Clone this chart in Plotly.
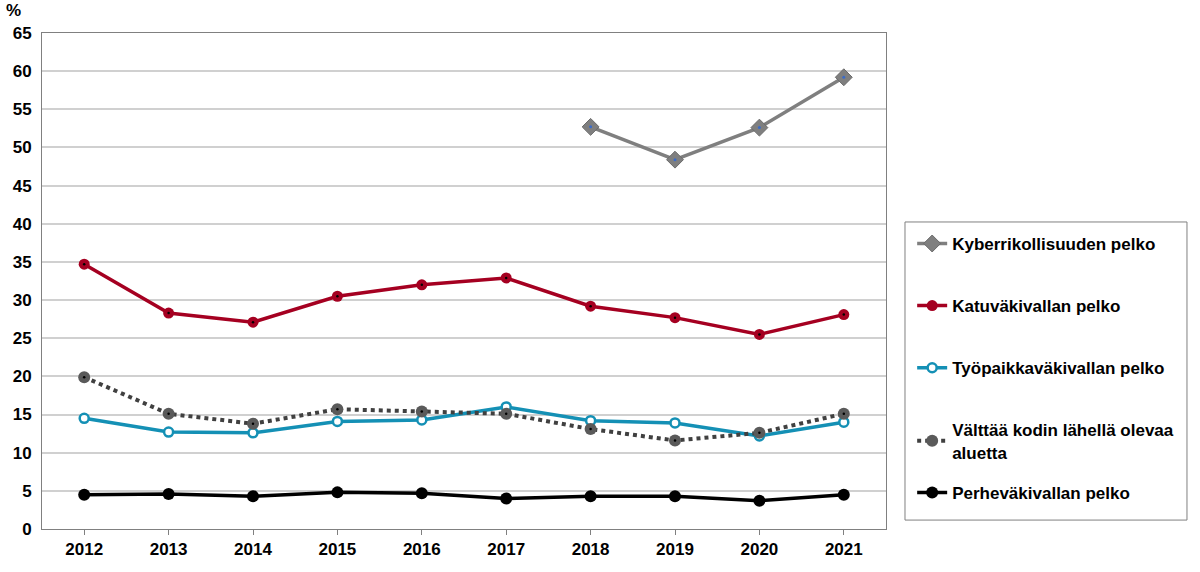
import plotly.graph_objects as go

years = ['2012', '2013', '2014', '2015', '2016', '2017', '2018', '2019', '2020', '2021']

kyber = [None, None, None, None, None, None, 52.7, 48.4, 52.6, 59.2]
katu = [34.7, 28.3, 27.1, 30.5, 32.0, 32.9, 29.2, 27.7, 25.5, 28.1]
tyopaikka = [14.5, 12.7, 12.6, 14.1, 14.3, 16.0, 14.2, 13.9, 12.2, 14.0]
valttaa = [19.9, 15.1, 13.8, 15.7, 15.4, 15.1, 13.1, 11.6, 12.6, 15.1]
perhe = [4.5, 4.6, 4.3, 4.8, 4.7, 4.0, 4.3, 4.3, 3.7, 4.5]

y_ticks = list(range(0, 70, 5))

font_family = 'Arial, Liberation Sans, sans-serif'

fig = go.Figure()

# main series
fig.add_trace(go.Scatter(x=years, y=kyber, name='Kyberrikollisuuden pelko', legendgroup='a',
                         mode='lines+markers', line=dict(color='#7f7f7f', width=3.5),
                         marker=dict(symbol='diamond', size=13, color='#7f7f7f',
                                     line=dict(color='#6a6a6a', width=1))))
fig.add_trace(go.Scatter(x=years, y=katu, name='Katuväkivallan pelko', legendgroup='b',
                         mode='lines+markers', line=dict(color='#a50021', width=3.5),
                         marker=dict(symbol='circle', size=11, color='#a50021')))
fig.add_trace(go.Scatter(x=years, y=tyopaikka, name='Työpaikkaväkivallan pelko', legendgroup='c',
                         mode='lines+markers', line=dict(color='#1490b5', width=3.5),
                         marker=dict(symbol='circle', size=9, color='white',
                                     line=dict(color='#1490b5', width=2.5))))
fig.add_trace(go.Scatter(x=years, y=valttaa, name='Välttää kodin lähellä olevaa<br>aluetta', legendgroup='d',
                         mode='lines+markers', line=dict(color='#404040', width=4, dash='dot'),
                         marker=dict(symbol='circle', size=12, color='#5a5a5a')))
fig.add_trace(go.Scatter(x=years, y=perhe, name='Perheväkivallan pelko', legend='legend2',
                         mode='lines+markers', line=dict(color='black', width=3.5),
                         marker=dict(symbol='circle', size=12, color='black')))

# small centre dots inside the markers
fig.add_trace(go.Scatter(x=years, y=kyber, mode='markers', showlegend=False, hoverinfo='skip',
                         marker=dict(size=3, color='#3a6bc8')))
fig.add_trace(go.Scatter(x=years, y=katu, mode='markers', showlegend=False, hoverinfo='skip',
                         marker=dict(size=2.5, color='black')))
fig.add_trace(go.Scatter(x=years, y=valttaa, mode='markers', showlegend=False, hoverinfo='skip',
                         marker=dict(size=2.5, color='black')))

legend_font = dict(family=font_family, size=17, color='black', weight='bold')

fig.update_layout(
    width=1200, height=572,
    margin=dict(l=42, r=314, t=33, b=43, autoexpand=False),
    plot_bgcolor='white', paper_bgcolor='white',
    font=dict(family=font_family, size=17, color='black'),
    legend=dict(x=1.031, y=0.611, xanchor='left', yanchor='top', bgcolor='rgba(0,0,0,0)',
                font=legend_font, tracegroupgap=37, itemwidth=30),
    legend2=dict(x=1.031, y=0.0726, xanchor='left', yanchor='middle', bgcolor='rgba(0,0,0,0)',
                 font=legend_font, itemwidth=30),
    xaxis=dict(type='category', showgrid=False, showline=True, linecolor='#808080', linewidth=1,
               mirror=True, ticks='outside', ticklen=5, tickcolor='#808080',
               tickfont=dict(size=17, weight='bold'), range=[-0.5, 9.5]),
    yaxis=dict(range=[0, 65], tickvals=y_ticks, showgrid=True, gridcolor='#d0d0d0', gridwidth=1.5,
               showline=True, linecolor='#808080', linewidth=1, mirror=True, ticks='',
               ticklabelstandoff=6, tickfont=dict(size=17, weight='bold'), zeroline=False),
    shapes=[dict(type='rect', xref='paper', yref='paper', x0=1.0225, x1=1.3566, y0=0.018, y1=0.619,
                 line=dict(color='#808080', width=1), fillcolor='rgba(0,0,0,0)', layer='below')],
    annotations=[dict(text='%', x=0, y=1, xref='paper', yref='paper', xanchor='left', yanchor='middle',
                      xshift=-38, yshift=23, showarrow=False,
                      font=dict(size=17, weight='bold'))],
)

# drop the page's default body margin so the figure sits at the window corner
fig.write_html("out.html", config={'displayModeBar': False},
               post_script="document.body.style.margin='0px';")
